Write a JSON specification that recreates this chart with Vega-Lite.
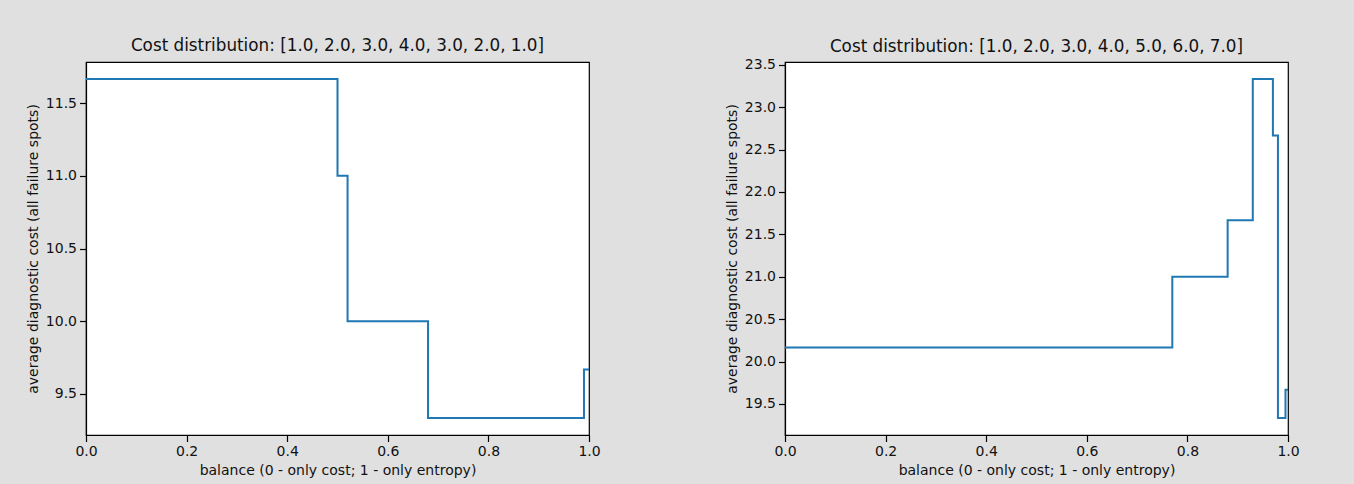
{
  "$schema": "https://vega.github.io/schema/vega-lite/v6.json",
  "background": "#e0e0e0",
  "padding": {"left": 25, "top": 37, "right": 60, "bottom": 12},
  "autosize": {"type": "pad"},
  "spacing": 123,
  "datasets": {
    "left": [
      {"balance": 0.0, "cost": 11.6667},
      {"balance": 0.50, "cost": 11.0},
      {"balance": 0.52, "cost": 10.0},
      {"balance": 0.68, "cost": 9.3333},
      {"balance": 0.99, "cost": 9.6667},
      {"balance": 1.0, "cost": 9.6667}
    ],
    "right": [
      {"balance": 0.0, "cost": 20.1667},
      {"balance": 0.77, "cost": 21.0},
      {"balance": 0.88, "cost": 21.6667},
      {"balance": 0.93, "cost": 23.3333},
      {"balance": 0.97, "cost": 22.6667},
      {"balance": 0.98, "cost": 19.3333},
      {"balance": 0.995, "cost": 19.6667},
      {"balance": 1.0, "cost": 19.6667}
    ]
  },
  "config": {
    "font": "DejaVu Sans",
    "view": {"fill": "white", "stroke": "black", "strokeWidth": 1.2},
    "axis": {
      "domain": true,
      "domainColor": "black",
      "domainWidth": 1.2,
      "ticks": true,
      "tickColor": "black",
      "tickWidth": 1.2,
      "tickSize": 6.5,
      "labelColor": "#111111",
      "titleColor": "#111111",
      "labelFont": "DejaVu Sans",
      "titleFont": "DejaVu Sans",
      "labelFontSize": 14,
      "titleFontSize": 14,
      "titleFontWeight": "normal",
      "grid": false,
      "labelFlush": false,
      "labelOverlap": false,
      "labelPadding": 3,
      "titlePadding": 5
    },
    "title": {"font": "DejaVu Sans", "fontSize": 16.8, "fontWeight": "normal", "color": "#111111", "offset": 7, "anchor": "middle", "frame": "group"}
  },
  "hconcat": [
    {
      "title": "Cost distribution: [1.0, 2.0, 3.0, 4.0, 3.0, 2.0, 1.0]",
      "width": 503,
      "height": 373,
      "data": {"name": "left"},
      "mark": {"type": "line", "interpolate": "step-after", "color": "#1f77b4", "strokeWidth": 2, "clip": true},
      "encoding": {
        "x": {
          "field": "balance", "type": "quantitative",
          "scale": {"domain": [0, 1], "nice": false, "zero": false},
          "axis": {"title": "balance (0 - only cost; 1 - only entropy)", "values": [0, 0.2, 0.4, 0.6, 0.8, 1.0], "format": ".1f"}
        },
        "y": {
          "field": "cost", "type": "quantitative",
          "scale": {"domain": [9.2167, 11.7833], "nice": false, "zero": false},
          "axis": {"title": "average diagnostic cost (all failure spots)", "values": [9.5, 10.0, 10.5, 11.0, 11.5], "format": ".1f"}
        }
      }
    },
    {
      "title": {"text": "Cost distribution: [1.0, 2.0, 3.0, 4.0, 5.0, 6.0, 7.0]", "dy": 4.5},
      "width": 503,
      "height": 373,
      "data": {"name": "right"},
      "mark": {"type": "line", "interpolate": "step-after", "color": "#1f77b4", "strokeWidth": 2, "clip": true},
      "encoding": {
        "x": {
          "field": "balance", "type": "quantitative",
          "scale": {"domain": [0, 1], "nice": false, "zero": false},
          "axis": {"title": "balance (0 - only cost; 1 - only entropy)", "values": [0, 0.2, 0.4, 0.6, 0.8, 1.0], "format": ".1f"}
        },
        "y": {
          "field": "cost", "type": "quantitative",
          "scale": {"domain": [19.1333, 23.5333], "nice": false, "zero": false},
          "axis": {"title": "average diagnostic cost (all failure spots)", "values": [19.5, 20.0, 20.5, 21.0, 21.5, 22.0, 22.5, 23.0, 23.5], "format": ".1f"}
        }
      }
    }
  ]
}
